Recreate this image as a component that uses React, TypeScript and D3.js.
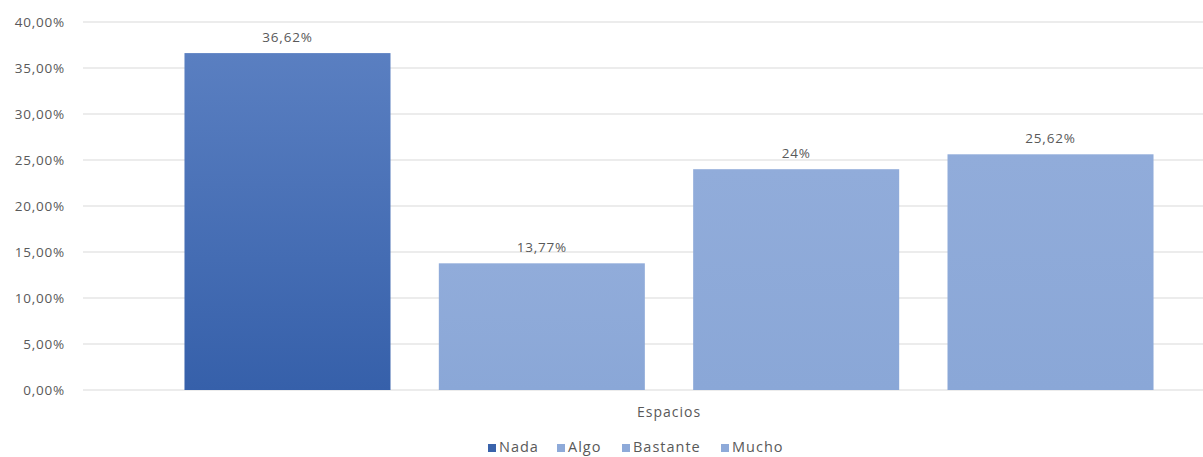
import React from "react";
import * as d3 from "d3";

const categories = ["Espacios"];
const series = ["Nada", "Algo", "Bastante", "Mucho"];
const values = [36.62, 13.77, 24, 25.62];
const valueLabels = ["36,62%", "13,77%", "24%", "25,62%"];
const yTicks = [0, 5, 10, 15, 20, 25, 30, 35, 40];
const yTickLabels = ["0,00%", "5,00%", "10,00%", "15,00%", "20,00%", "25,00%", "30,00%", "35,00%", "40,00%"];

const W = 1203;
const H = 457;
const FONT = "'Open Sans', Lato, sans-serif";
const TEXT = "#595959";

export default function App() {
  const y = d3.scaleLinear().domain([0, 40]).range([390, 22]);
  const x0 = d3.scaleBand<string>().domain(categories).range([83, 1255]).paddingOuter(0.076).paddingInner(0);
  const x1 = d3
    .scaleBand<string>()
    .domain(series)
    .range([0, x0.bandwidth()])
    .paddingInner(0.19)
    .paddingOuter(0.095);

  const legendX = [488, 557, 622, 721];

  return (
    <svg
      width={W}
      height={H}
      style={{ position: "absolute", left: 0, top: 0, background: "#fff" }}
      fontFamily={FONT}
    >
      <defs>
        <linearGradient id="gDark" x1="0" y1="0" x2="0" y2="1">
          <stop offset="0" stopColor="#5a7fc1" />
          <stop offset="1" stopColor="#3660aa" />
        </linearGradient>
        <linearGradient id="gLight" x1="0" y1="0" x2="0" y2="1">
          <stop offset="0" stopColor="#91acda" />
          <stop offset="1" stopColor="#8aa7d7" />
        </linearGradient>
      </defs>
      {yTicks.map((t, i) => (
        <g key={t}>
          <line x1={83} x2={W} y1={y(t)} y2={y(t)} stroke="#d9d9d9" strokeWidth={1} />
          <text
            x={65}
            y={y(t)}
            dy="0.35em"
            textAnchor="end"
            fontSize={13.5}
            letterSpacing={0.8}
            fill={TEXT}
          >
            {yTickLabels[i]}
          </text>
        </g>
      ))}
      {categories.map((c) => (
        <g key={c} transform={`translate(${x0(c)},0)`}>
          {series.map((s, i) => (
            <g key={s}>
              <rect
                x={x1(s)}
                y={y(values[i])}
                width={x1.bandwidth()}
                height={y(0) - y(values[i])}
                fill={i === 0 ? "url(#gDark)" : "url(#gLight)"}
              />
              <text
                x={(x1(s) as number) + x1.bandwidth() / 2}
                y={y(values[i]) - 11}
                textAnchor="middle"
                fontSize={13.5}
                letterSpacing={0.8}
                fill={TEXT}
              >
                {valueLabels[i]}
              </text>
            </g>
          ))}
          <text
            x={x0.bandwidth() / 2}
            y={417}
            textAnchor="middle"
            fontSize={14}
            letterSpacing={1}
            fill={TEXT}
          >
            {c}
          </text>
        </g>
      ))}
      {series.map((s, i) => (
        <g key={s} transform={`translate(${legendX[i]},447)`}>
          <rect x={0} y={-3} width={8} height={8} fill={i === 0 ? "#3a63ab" : "#8eaad9"} />
          <text x={11} y={0} dy="0.35em" fontSize={14.5} letterSpacing={1} fill={TEXT}>
            {s}
          </text>
        </g>
      ))}
    </svg>
  );
}
